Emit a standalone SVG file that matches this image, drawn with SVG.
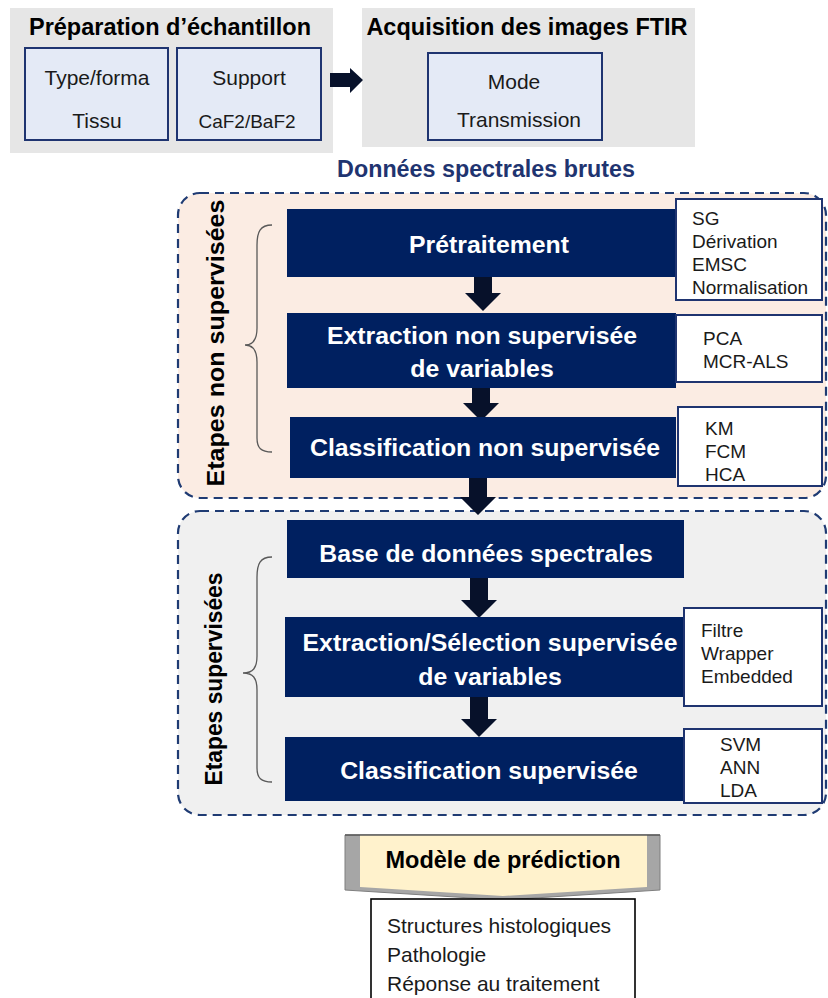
<svg xmlns="http://www.w3.org/2000/svg" width="828" height="998" viewBox="0 0 828 998">
<defs>
<style>
.panel{fill:#e6e6e6;}
.inbox{fill:#e4eaf6;stroke:#1f3470;stroke-width:2;}
.title{font-family:"Liberation Sans",Arial,sans-serif;font-weight:bold;font-size:23.5px;fill:#000;text-anchor:middle;}
.t{font-family:"Liberation Sans",Arial,sans-serif;font-size:21px;fill:#1a1a1a;text-anchor:middle;}
.region{stroke:#1f3b73;stroke-width:2.2;stroke-dasharray:9 6;}
.navy{fill:#002060;}
.nt{font-family:"Liberation Sans",Arial,sans-serif;font-weight:bold;font-size:24.8px;fill:#fff;text-anchor:middle;}
.side{fill:#fff;stroke:#1f3470;stroke-width:2;}
.st{font-family:"Liberation Sans",Arial,sans-serif;font-size:19px;fill:#1a1a1a;}
.vl{font-family:"Liberation Sans",Arial,sans-serif;font-weight:bold;font-size:24px;fill:#000;text-anchor:middle;}
.brace{fill:none;stroke:#595959;stroke-width:1.3;}
.arrow{fill:#07112a;}
.out{font-family:"Liberation Sans",Arial,sans-serif;font-size:21px;fill:#1a1a1a;}
</style>
</defs>

<g id="regions">
<rect id="region-unsupervised" x="178" y="193" width="648" height="305" rx="22" fill="#fbece3" class="region"/>
<rect id="region-supervised" x="178" y="511" width="648" height="304" rx="22" fill="#f0f0f0" class="region"/>
</g>

<g id="prep">
<rect class="panel" x="10" y="8" width="323" height="145"/>
<text class="title" x="170" y="35">Préparation d’échantillon</text>
<g id="type">
<rect class="inbox" x="25" y="48" width="143" height="92"/>
<text class="t" x="97" y="85">Type/forma</text>
<text class="t" x="97" y="128">Tissu</text>
</g>
<g id="support">
<rect class="inbox" x="177" y="48" width="144" height="92"/>
<text class="t" x="249" y="85">Support</text>
<text class="t" x="247" y="128" style="font-size:19px">CaF2/BaF2</text>
</g>
</g>

<g id="acq">
<rect class="panel" x="362" y="8" width="333" height="139"/>
<text class="title" x="527" y="35">Acquisition des images FTIR</text>
<g id="mode">
<rect class="inbox" x="428" y="53" width="174" height="87"/>
<text class="t" x="514" y="89">Mode</text>
<text class="t" x="519" y="127">Transmission</text>
</g>
</g>

<g id="data-label">
<text class="title" x="486" y="177" style="fill:#1f3470;font-size:23.3px">Données spectrales brutes</text>
</g>

<g id="labels">
<text class="vl" transform="translate(224,343) rotate(-90)" textLength="287" lengthAdjust="spacingAndGlyphs">Etapes non supervisées</text>
<text class="vl" transform="translate(222,679) rotate(-90)" textLength="213" lengthAdjust="spacingAndGlyphs">Etapes supervisées</text>
<path class="brace" d="M272,225 C260,225 257,232 257,245 L257,328 C257,340 253,345 245,345 C253,345 257,350 257,362 L257,438 C257,448 261,452 272,452"/>
<path class="brace" d="M272,557 C260,557 257,564 257,577 L257,656 C257,668 253,673 243,673 C253,673 257,678 257,690 L257,768 C257,778 261,782 272,782"/>
</g>

<g id="connectors">
<polygon class="arrow" points="330,73 350,73 350,68 363,80 350,93 350,87 330,87"/>
<polygon class="arrow" points="474,271 492,271 492,293 501,293 483,311 465,293 474,293"/>
<polygon class="arrow" points="472,386 490,386 490,403 499,403 481,421 463,403 472,403"/>
<polygon class="arrow" points="469,476 487,476 487,497 496,497 478,515 460,497 469,497"/>
<polygon class="arrow" points="470,578 488,578 488,600 497,600 479,618 461,600 470,600"/>
<polygon class="arrow" points="470,697 488,697 488,719 497,719 479,737 461,719 470,719"/>
</g>

<g id="pretraitement">
<rect class="navy" x="287" y="209" width="389" height="68"/>
<text class="nt" x="489" y="253">Prétraitement</text>
</g>
<g id="pretraitement-methods">
<rect class="side" x="676" y="199" width="146" height="101"/>
<text class="st" x="692" y="225">SG</text>
<text class="st" x="692" y="248">Dérivation</text>
<text class="st" x="692" y="271">EMSC</text>
<text class="st" x="692" y="294">Normalisation</text>
</g>

<g id="extraction-ns">
<rect class="navy" x="287" y="313" width="389" height="75"/>
<text class="nt" x="482" y="344">Extraction non supervisée</text>
<text class="nt" x="482" y="377">de variables</text>
</g>
<g id="extraction-ns-methods">
<rect class="side" x="676" y="315" width="146" height="67"/>
<text class="st" x="703" y="345">PCA</text>
<text class="st" x="703" y="368">MCR-ALS</text>
</g>

<g id="classif-ns">
<rect class="navy" x="290" y="417" width="386" height="61"/>
<text class="nt" x="485" y="456">Classification non supervisée</text>
</g>
<g id="classif-ns-methods">
<rect class="side" x="678" y="407" width="144" height="79"/>
<text class="st" x="705" y="435">KM</text>
<text class="st" x="705" y="458">FCM</text>
<text class="st" x="705" y="481">HCA</text>
</g>

<g id="base">
<rect class="navy" x="287" y="520" width="397" height="58"/>
<text class="nt" x="486" y="562">Base de données spectrales</text>
</g>

<g id="extraction-s">
<rect class="navy" x="285" y="617" width="399" height="80"/>
<text class="nt" x="490" y="651">Extraction/Sélection supervisée</text>
<text class="nt" x="490" y="685">de variables</text>
</g>
<g id="extraction-s-methods">
<rect class="side" x="684" y="608" width="138" height="98"/>
<text class="st" x="701" y="637">Filtre</text>
<text class="st" x="701" y="660">Wrapper</text>
<text class="st" x="701" y="683">Embedded</text>
</g>

<g id="classif-s">
<rect class="navy" x="285" y="737" width="399" height="64"/>
<text class="nt" x="489" y="779">Classification supervisée</text>
</g>
<g id="classif-s-methods">
<rect class="side" x="684" y="729" width="138" height="74"/>
<text class="st" x="720" y="751">SVM</text>
<text class="st" x="720" y="774">ANN</text>
<text class="st" x="720" y="797">LDA</text>
</g>

<g id="modele">
<polygon points="345,835 660,835 660,890 503,900 345,890" fill="#a6a6a6" stroke="#7f7f7f" stroke-width="1"/>
<polygon points="360,835 647,835 647,887 503,896 360,887" fill="#fff2cc"/>
<line x1="345" y1="835" x2="660" y2="835" stroke="#595959" stroke-width="1.5"/>
<text class="title" x="503" y="868">Modèle de prédiction</text>
</g>

<g id="output">
<rect x="371" y="899" width="264" height="110" fill="#fff" stroke="#000" stroke-width="1.6"/>
<text class="out" x="387" y="933">Structures histologiques</text>
<text class="out" x="387" y="962">Pathologie</text>
<text class="out" x="387" y="991">Réponse au traitement</text>
</g>
</svg>
